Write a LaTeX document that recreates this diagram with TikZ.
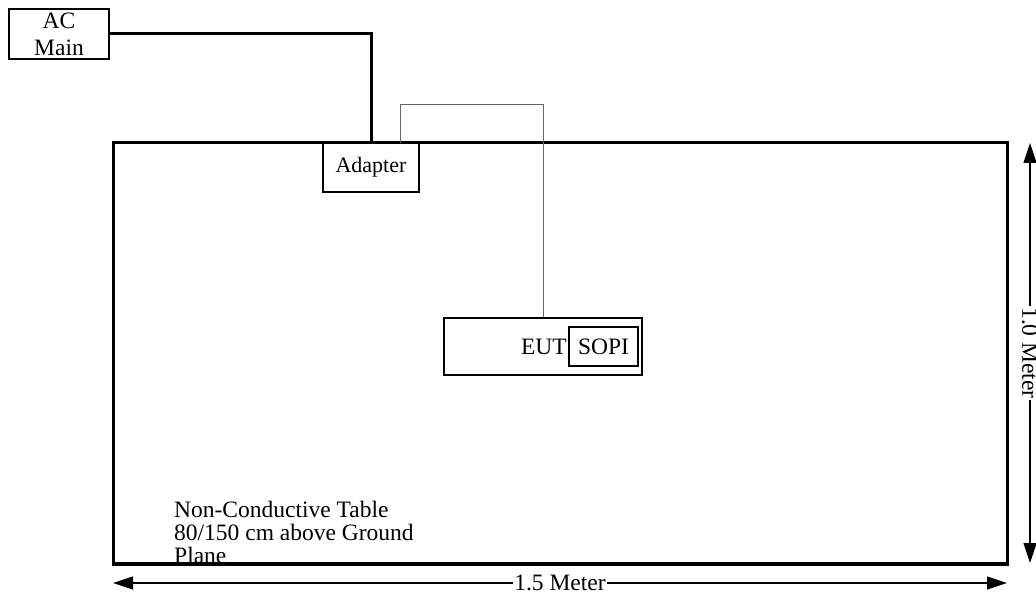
\documentclass[tikz,border=0pt]{standalone}
\usepackage{fontspec}
\setmainfont{Liberation Serif}
\usetikzlibrary{arrows.meta}
\begin{document}
\begin{tikzpicture}[x=1pt,y=-1pt,
  txt/.style={font=\fontsize{23.5}{27}\selectfont, inner sep=0pt},
  box/.style={draw, line width=1.2pt, inner sep=0pt, txt},
  power/.style={line width=3pt},
  cable/.style={line width=1pt, draw=black!60},
  dim/.style={line width=1.2pt, {Triangle[length=20pt,width=13pt]}-{Triangle[length=20pt,width=13pt]}},
  dimlabel/.style={txt, fill=white, inner xsep=1pt, inner ysep=0pt}]
\useasboundingbox (0,0) rectangle (1036,596);
% table
\node[draw, line width=3pt, inner sep=0pt, minimum width=894pt, minimum height=420pt] (table) at (560,353) {};
% AC main
\node[box, align=center, minimum width=100pt, minimum height=50pt, font=\fontsize{23.5}{27}\selectfont] (ac) at (59,34) {AC\\Main};
% adapter
\node[box, minimum width=96pt, minimum height=49pt, fill=white, font=\fontsize{22}{26}\selectfont] (adapter) at (371,167.5) {Adapter};
% EUT
\node[box, minimum width=198pt, minimum height=57pt] (eut) at (543,346.5) {};
\node[box, minimum width=69pt, minimum height=39pt] (sopi) at (603.5,346.5) {SOPI};
\node[txt, anchor=base east] (euttext) at (567,354) {EUT};
% connections
\draw[power] (ac.east) -| (adapter.north);
\coordinate (cin) at (400,143);
\coordinate (cup) at (400,105);
\draw[cable] (cin) -- (cup) -| (eut.north);
% note
\node[txt, anchor=base west] (note1) at (174,517) {Non-Conductive Table};
\node[txt, anchor=base west] (note2) at (174,540) {80/150 cm above Ground};
\node[txt, anchor=base west] (note3) at (174,563) {Plane};
\draw[line width=3pt] (table.south west) -- (table.south east);
% dimensions
\coordinate (hl) at (113,583);
\coordinate (hr) at (1007,583);
\draw[dim] (hl) -- (hr) node[midway, dimlabel] (hlabel) {1.5 Meter};
\coordinate (vt) at (1030,143);
\coordinate (vb) at (1030,563);
\draw[dim] (vt) -- (vb) node[midway, dimlabel, rotate=-90] (vlabel) {1.0 Meter};
\end{tikzpicture}
\end{document}
